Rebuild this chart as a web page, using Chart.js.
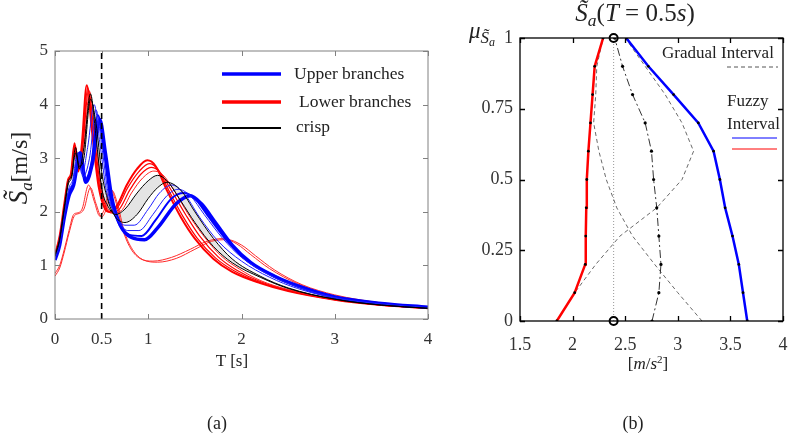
<!DOCTYPE html>
<html>
<head>
<meta charset="utf-8">
<script src="https://cdn.jsdelivr.net/npm/chart.js@4.4.0/dist/chart.umd.min.js"></script>
<style>
  body { margin: 0; background: #fff; width: 789px; height: 440px; position: relative; overflow: hidden;
         font-family: "Liberation Serif", "Times New Roman", serif; color: #222; }
  canvas { position: absolute; top: 0; }
  #chartA { left: 0; }
  #chartB { left: 450px; }
  .txt { position: absolute; white-space: nowrap; line-height: 1; transform: translate(-50%, -50%); }
  .lft { position: absolute; white-space: nowrap; line-height: 1; transform: translateY(-50%); }
  sub { font-size: 0.7em; vertical-align: -0.3em; }
  svg { position: absolute; left: 0; top: 0; }
</style>
</head>
<body>
<canvas id="chartA" width="450" height="400"></canvas>
<canvas id="chartB" width="339" height="400"></canvas>

<svg width="789" height="440">
  <line x1="222" y1="74" x2="281" y2="74" stroke="#0000ff" stroke-width="3.5"/>
  <line x1="222" y1="102" x2="281" y2="102" stroke="#ff0000" stroke-width="3.5"/>
  <line x1="222" y1="128" x2="281" y2="128" stroke="#000" stroke-width="2"/>
  <line x1="727" y1="67" x2="778" y2="67" stroke="#555" stroke-width="1" stroke-dasharray="4 3"/>
  <line x1="732" y1="138" x2="777" y2="138" stroke="#0000ff" stroke-width="1"/>
  <line x1="732" y1="149" x2="777" y2="149" stroke="#ff0000" stroke-width="1"/>
</svg>

<!-- panel (a) texts -->
<div class="lft" style="left:294px;top:74px;font-size:17.5px">Upper branches</div>
<div class="lft" style="left:299px;top:102px;font-size:17.5px">Lower branches</div>
<div class="lft" style="left:296px;top:127px;font-size:17.5px">crisp</div>
<div class="txt" style="left:20px;top:168px;transform:translate(-50%,-50%) rotate(-90deg);font-size:24px">
  <i style="font-size:27px">S&#771;</i><sub><i>a</i></sub>[m/s]</div>
<div class="txt" style="left:232px;top:360px;font-size:17px">T [s]</div>
<div class="txt" style="left:217px;top:423px;font-size:18px">(a)</div>

<!-- panel (b) texts -->
<div class="txt" style="left:635px;top:15px;font-size:25px"><i>S&#771;</i><sub><i>a</i></sub>(<i>T</i> = 0.5<i>s</i>)</div>
<div class="txt" style="left:482px;top:30px;font-size:23px"><i>μ</i><span style="position:relative;top:5px"><i style="font-size:17px">S&#771;</i><i style="font-size:12px;position:relative;top:3px">a</i></span></div>
<div class="lft" style="left:662px;top:52px;font-size:17px">Gradual Interval</div>
<div class="lft" style="left:727px;top:100px;font-size:17px">Fuzzy</div>
<div class="lft" style="left:727px;top:123px;font-size:17px">Interval</div>
<div class="txt" style="left:648px;top:363px;font-size:17px">[<i>m</i>/<i>s</i><sup style="font-size:0.65em">2</sup>]</div>
<div class="txt" style="left:633px;top:423px;font-size:18px">(b)</div>

<script>
// ---- panel (a): spectra, [T, Sa] pairs ----
const periodTicks = [0, 0.5, 1, 2, 3, 4];
const saTicks = [0, 1, 2, 3, 4, 5];
const designPeriod = 0.5;

const crispUpper = [[0,1.2],[0.05,1.5],[0.1,2.1],[0.14,2.55],[0.18,2.7],[0.22,3.2],[0.26,2.8],[0.31,3.2],[0.38,4.2],[0.44,3.4],[0.5,2.45],[0.57,2.1],[0.65,1.95],[0.75,2.05],[0.88,2.35],[1.0,2.58],[1.1,2.68],[1.2,2.58],[1.35,2.2],[1.5,1.8],[1.7,1.35],[1.9,1.05],[2.2,0.78],[2.5,0.57],[3,0.37],[3.5,0.26],[4,0.2]];
const crispLower = [[0,1.17],[0.05,1.47],[0.1,2.05],[0.14,2.5],[0.18,2.65],[0.22,3.1],[0.26,2.85],[0.31,3.0],[0.38,4.1],[0.44,3.65],[0.5,2.75],[0.57,2.2],[0.65,1.9],[0.75,1.8],[0.88,1.95],[1.0,2.25],[1.1,2.45],[1.2,2.55],[1.35,2.4],[1.5,2.0],[1.7,1.5],[1.9,1.12],[2.2,0.8],[2.5,0.58],[3,0.37],[3.5,0.26],[4,0.2]];

const upper1 = [[0,1.15],[0.05,1.45],[0.1,2.0],[0.15,2.45],[0.19,2.6],[0.24,3.1],[0.29,2.7],[0.35,3.2],[0.42,4.0],[0.48,3.3],[0.55,2.4],[0.63,2.0],[0.75,1.75],[0.85,1.75],[1.0,2.05],[1.12,2.35],[1.25,2.5],[1.38,2.35],[1.55,1.9],[1.75,1.45],[2.0,1.08],[2.3,0.78],[2.6,0.57],[3,0.39],[3.5,0.27],[4,0.21]];
const upper2 = [[0,1.13],[0.05,1.42],[0.1,1.95],[0.15,2.4],[0.2,2.58],[0.25,3.1],[0.3,2.65],[0.37,3.0],[0.44,3.9],[0.5,3.25],[0.57,2.35],[0.66,1.9],[0.78,1.65],[0.9,1.65],[1.05,1.95],[1.2,2.3],[1.32,2.42],[1.45,2.3],[1.6,1.95],[1.8,1.5],[2.0,1.15],[2.3,0.82],[2.6,0.6],[3,0.4],[3.5,0.28],[4,0.21]];
const upper3 = [[0,1.11],[0.05,1.4],[0.1,1.92],[0.15,2.35],[0.2,2.55],[0.26,3.1],[0.32,2.6],[0.39,2.9],[0.46,3.8],[0.52,3.2],[0.59,2.3],[0.68,1.8],[0.8,1.57],[0.93,1.55],[1.08,1.85],[1.25,2.25],[1.38,2.35],[1.5,2.25],[1.65,1.9],[1.85,1.45],[2.05,1.1],[2.3,0.85],[2.6,0.61],[3,0.4],[3.5,0.28],[4,0.21]];
const upperOuter = [[0,1.1],[0.05,1.38],[0.1,1.9],[0.15,2.3],[0.2,2.5],[0.27,3.1],[0.33,2.55],[0.4,2.9],[0.48,3.72],[0.54,3.1],[0.61,2.25],[0.7,1.75],[0.82,1.52],[0.96,1.48],[1.1,1.7],[1.3,2.15],[1.45,2.3],[1.57,2.15],[1.72,1.8],[1.9,1.38],[2.1,1.05],[2.35,0.8],[2.6,0.62],[3,0.41],[3.5,0.29],[4,0.22]];

const lowerOuter = [[0,1.2],[0.05,1.55],[0.1,2.15],[0.14,2.6],[0.17,2.7],[0.21,3.28],[0.25,2.75],[0.29,3.3],[0.34,4.36],[0.4,3.45],[0.47,2.45],[0.57,2.0],[0.66,2.1],[0.77,2.5],[0.88,2.8],[0.99,2.96],[1.08,2.85],[1.2,2.4],[1.35,1.9],[1.5,1.5],[1.7,1.12],[1.9,0.88],[2.2,0.67],[2.5,0.52],[3,0.36],[3.5,0.26],[4,0.2]];
const lower1 = [[0,1.2],[0.05,1.53],[0.1,2.12],[0.14,2.58],[0.17,2.68],[0.21,3.25],[0.25,2.78],[0.3,3.3],[0.35,4.32],[0.41,3.45],[0.48,2.45],[0.58,2.0],[0.67,2.08],[0.78,2.45],[0.9,2.75],[1.01,2.9],[1.1,2.8],[1.22,2.4],[1.37,1.92],[1.52,1.52],[1.72,1.14],[1.92,0.9],[2.2,0.68],[2.5,0.53],[3,0.36],[3.5,0.26],[4,0.2]];
const lower2 = [[0,1.19],[0.05,1.52],[0.1,2.1],[0.14,2.56],[0.18,2.68],[0.22,3.22],[0.26,2.8],[0.3,3.25],[0.36,4.28],[0.42,3.45],[0.49,2.45],[0.6,1.98],[0.69,2.05],[0.8,2.4],[0.92,2.7],[1.03,2.83],[1.12,2.75],[1.24,2.42],[1.4,1.95],[1.55,1.55],[1.75,1.16],[1.95,0.91],[2.2,0.7],[2.5,0.54],[3,0.36],[3.5,0.26],[4,0.2]];
const lower3 = [[0,1.19],[0.05,1.51],[0.1,2.1],[0.14,2.55],[0.18,2.68],[0.22,3.2],[0.26,2.8],[0.31,3.2],[0.37,4.25],[0.43,3.45],[0.5,2.45],[0.62,1.98],[0.71,2.02],[0.82,2.35],[0.94,2.63],[1.06,2.76],[1.15,2.7],[1.27,2.42],[1.42,1.98],[1.58,1.58],[1.78,1.18],[1.98,0.93],[2.2,0.72],[2.5,0.55],[3,0.37],[3.5,0.26],[4,0.2]];

const lowerStrayA = [[0,0.85],[0.05,1.0],[0.1,1.3],[0.15,1.65],[0.2,1.95],[0.24,1.98],[0.29,2.05],[0.36,2.5],[0.42,2.2],[0.48,1.92],[0.53,2.05],[0.59,2.43],[0.65,2.2],[0.72,1.7],[0.8,1.35],[0.91,1.13],[1.05,1.08],[1.25,1.15],[1.45,1.3],[1.63,1.45],[1.8,1.5],[1.95,1.4],[2.1,1.2],[2.3,0.94],[2.6,0.66],[3,0.43],[3.5,0.3],[4,0.22]];
const lowerStrayB = [[0,0.8],[0.05,0.95],[0.1,1.25],[0.15,1.6],[0.21,1.93],[0.26,1.97],[0.31,2.05],[0.38,2.45],[0.44,2.15],[0.5,1.9],[0.55,2.05],[0.61,2.4],[0.67,2.15],[0.74,1.65],[0.83,1.3],[0.95,1.1],[1.1,1.06],[1.3,1.13],[1.5,1.3],[1.68,1.45],[1.85,1.48],[2.0,1.38],[2.15,1.18],[2.35,0.92],[2.65,0.64],[3,0.45],[3.5,0.3],[4,0.22]];

// ---- panel (b): membership of Sa at T = 0.5 s ----
const muTicks = [0, 0.25, 0.5, 0.75, 1];
const accelTicks = [1.5, 2, 2.5, 3, 3.5, 4];
const muLevels = [0, 0.1, 0.2, 0.3, 0.4, 0.5, 0.6, 0.7, 0.8, 0.9, 1];
const fuzzyUpper = [3.66, 3.62, 3.58, 3.52, 3.45, 3.40, 3.34, 3.195, 2.96, 2.72, 2.51];
const fuzzyLower = [1.85, 2.02, 2.12, 2.125, 2.13, 2.135, 2.15, 2.17, 2.19, 2.21, 2.29];
const gradualMid = [2.755, 2.82, 2.84, 2.82, 2.80, 2.77, 2.75, 2.69, 2.57, 2.475, 2.4];
const gradualLeft = [3.23, 3.0, 2.78, 2.57, 2.42, 2.32, 2.25, 2.2, 2.22, 2.23, 2.29];
const gradualRight = [1.85, 2.02, 2.22, 2.45, 2.8, 3.04, 3.15, 3.04, 2.88, 2.69, 2.5];
const crispSa = 2.39;

const pts = arr => arr.map(([x, y]) => ({ x, y }));
const muPts = xs => xs.map((x, i) => ({ x, y: muLevels[i] }));

// axis box with inward ticks on all four sides
const frameTicks = {
  id: 'frameTicks',
  afterDatasetsDraw(chart, args, opts) {
    const { ctx, chartArea: a, scales: { x, y } } = chart;
    const L = opts.len;
    ctx.save();
    ctx.strokeStyle = opts.color;
    ctx.lineWidth = opts.width;
    ctx.strokeRect(a.left, a.top, a.right - a.left, a.bottom - a.top);
    ctx.beginPath();
    x.ticks.forEach(t => {
      const px = Math.round(x.getPixelForValue(t.value)) + 0.5;
      ctx.moveTo(px, a.bottom); ctx.lineTo(px, a.bottom - L);
      ctx.moveTo(px, a.top); ctx.lineTo(px, a.top + L);
    });
    y.ticks.forEach(t => {
      const py = Math.round(y.getPixelForValue(t.value)) + 0.5;
      ctx.moveTo(a.left, py); ctx.lineTo(a.left + L, py);
      ctx.moveTo(a.right, py); ctx.lineTo(a.right - L, py);
    });
    ctx.stroke();
    ctx.restore();
  }
};

function axis(min, max, tickVals, fit, horizontal, color, size, pad) {
  return {
    type: 'linear', min, max,
    grid: { display: false, drawTicks: false }, border: { display: false },
    afterBuildTicks: s => { s.ticks = tickVals.map(v => ({ value: v })); },
    afterFit: s => {
      if (horizontal) { s.height = fit; s.paddingLeft = 0; s.paddingRight = 0; }
      else { s.width = fit; s.paddingTop = 0; s.paddingBottom = 0; }
    },
    ticks: { autoSkip: false, maxRotation: 0, padding: pad, color,
             font: { family: 'Liberation Serif', size }, callback: v => String(v) }
  };
}

const line = (data, color, width, extra) => Object.assign({
  data: pts(data), borderColor: color, borderWidth: width, fill: false, pointRadius: 0
}, extra || {});

new Chart(document.getElementById('chartA'), {
  type: 'line',
  data: {
    datasets: [
      line([[designPeriod, 0], [designPeriod, 5]], '#000', 1.6,
           { borderDash: [6, 4], cubicInterpolationMode: 'default', tension: 0 }),
      line(crispUpper, '#000', 1, { fill: '+1', backgroundColor: 'rgba(205,205,205,0.55)' }),
      line(crispLower, '#000', 1),
      line(upper1, '#1f1fff', 1),
      line(upper2, '#1f1fff', 1),
      line(upper3, '#0000ff', 2),
      line(upperOuter, '#0000ff', 3.5),
      line(lower3, '#ff1f1f', 1),
      line(lower2, '#ff0000', 1.2),
      line(lower1, '#ff0000', 1.2),
      line(lowerOuter, '#ff0000', 2),
      line(lowerStrayA, '#ff2a2a', 1),
      line(lowerStrayB, '#ff2a2a', 1)
    ]
  },
  options: {
    responsive: false, animation: false, devicePixelRatio: 1,
    layout: { padding: { left: 0, right: 22, top: 51, bottom: 0 } },
    elements: { point: { radius: 0 }, line: { cubicInterpolationMode: 'monotone' } },
    plugins: {
      legend: { display: false }, tooltip: { enabled: false },
      filler: { drawTime: 'beforeDatasetsDraw' },
      frameTicks: { color: '#808080', width: 1, len: 5 }
    },
    scales: {
      x: axis(0, 4, periodTicks, 81, true, '#333', 17, 10),
      y: axis(0, 5, saTicks, 55, false, '#333', 17, 7)
    }
  },
  plugins: [frameTicks]
});

new Chart(document.getElementById('chartB'), {
  type: 'line',
  data: {
    datasets: [
      { data: [{ x: crispSa, y: 0 }, { x: crispSa, y: 1 }], showLine: false, pointRadius: 4,
        pointBorderWidth: 2, pointBorderColor: '#000', pointBackgroundColor: 'rgba(0,0,0,0)', clip: 8 },
      { data: muPts(fuzzyUpper), borderColor: '#0000ff', borderWidth: 2.5, pointRadius: 1.4,
        pointBackgroundColor: '#000', pointBorderWidth: 0 },
      { data: muPts(fuzzyLower), borderColor: '#ff0000', borderWidth: 2.5, pointRadius: 1.4,
        pointBackgroundColor: '#000', pointBorderWidth: 0 },
      { data: muPts(gradualMid), borderColor: '#333', borderWidth: 1, borderDash: [8, 3, 2, 3],
        pointRadius: 1.6, pointBackgroundColor: '#000', pointBorderWidth: 0 },
      { data: muPts(gradualLeft), borderColor: '#444', borderWidth: 0.8, borderDash: [4, 3] },
      { data: muPts(gradualRight), borderColor: '#444', borderWidth: 0.8, borderDash: [4, 3] },
      { data: [{ x: crispSa, y: 0 }, { x: crispSa, y: 1 }], borderColor: '#999', borderWidth: 1,
        borderDash: [1, 2] }
    ]
  },
  options: {
    responsive: false, animation: false, devicePixelRatio: 1,
    layout: { padding: { left: 0, right: 4, top: 38, bottom: 0 } },
    elements: { point: { radius: 0 }, line: { tension: 0 } },
    plugins: {
      legend: { display: false }, tooltip: { enabled: false },
      frameTicks: { color: '#000', width: 1.3, len: 5 }
    },
    scales: {
      x: axis(1.5, 4, accelTicks, 79, true, '#333', 18, 13),
      y: axis(0, 1, muTicks, 70, false, '#333', 18, 7)
    }
  },
  plugins: [frameTicks]
});
</script>
</body>
</html>
